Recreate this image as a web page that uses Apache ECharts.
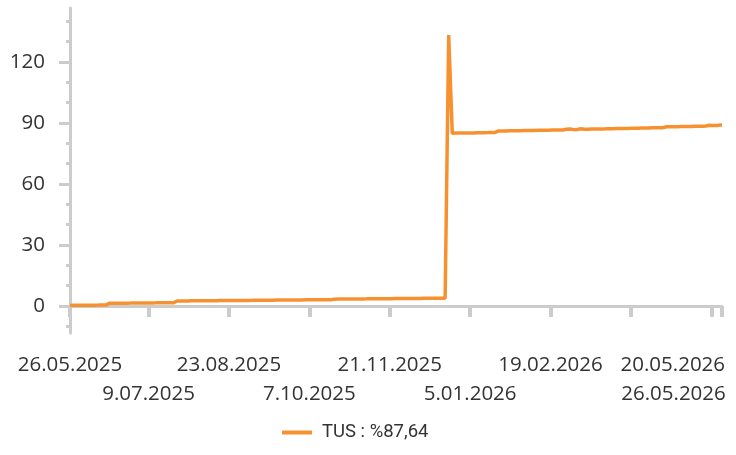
<!DOCTYPE html>
<html><head><meta charset="utf-8">
<script src="https://cdn.jsdelivr.net/npm/echarts@6/dist/echarts.min.js"></script>
<style>html,body{margin:0;padding:0;background:#fff}#c{width:736px;height:455px}</style>
</head><body><div id="c"></div>
<script>
// ---- data ----
const startDate = [2025, 5, 26]; // first category (day, month numbering 1-based)
const dayCount = 366;
const phase1 = [
  0.28,0.29,0.30,0.31,0.31,0.31,0.32,0.34,0.35,0.36,0.37,0.38,0.38,0.38,0.40,0.41,0.42,0.44,0.45,0.45,0.45,0.47,
  1.30,1.31,1.32,1.32,1.32,1.33,1.35,1.36,1.37,1.39,1.39,1.39,1.40,1.41,1.43,1.44,1.45,1.45,1.45,1.47,1.48,1.49,1.51,1.52,1.52,1.52,1.53,1.55,1.56,1.57,1.58,1.58,1.58,1.60,1.61,1.63,1.64,1.65,
  2.45,2.46,2.47,2.47,2.47,2.48,2.49,2.50,2.51,2.52,2.52,2.52,2.53,2.55,2.56,2.57,2.58,2.58,2.58,2.59,2.60,
  2.61,2.62,2.63,2.63,2.63,2.64,2.65,2.67,2.68,2.69,2.69,2.69,2.70,2.71,2.72,2.73,2.74,2.74,2.74,2.75,2.76,
  2.77,2.78,2.80,2.80,2.80,2.81,2.82,2.83,2.84,2.85,2.85,2.85,2.86,2.87,2.88,2.89,2.90,2.90,2.90,2.91,2.92,
  2.93,2.94,2.95,2.95,2.95,2.96,2.97,2.98,2.99,3.00,3.00,3.00,3.01,3.02,3.03,3.04,3.05,3.05,3.05,3.06,3.07,
  3.08,3.09,3.10,
  3.35,3.36,3.37,3.37,3.37,3.38,3.39,3.40,3.41,3.42,3.42,3.42,3.43,3.44,3.46,3.47,3.48,3.48,3.48,3.49,3.50,
  3.51,3.52,3.53,3.53,3.53,3.54,3.55,3.57,3.58,3.59,3.59,3.59,3.60,3.61,3.62,3.63,3.64,3.64,3.64,3.65,3.66,
  3.68,3.69,3.70,3.70,3.70,3.71,3.72,3.73,3.74,3.75,3.75,3.75,3.76,3.77,3.79,3.80,3.81,3.81,3.81,3.82,3.83,
  3.84
];
const jumpDays = [3.86, 133.3, 109.0];
const phase2 = [
  85.00,85.02,85.04,85.06,85.06,85.06,85.08,85.10,85.12,85.14,85.16,85.16,85.16,85.19,85.21,85.23,85.25,85.27,85.27,85.27,85.30,85.32,85.35,85.37,85.40,85.40,
  86.10,86.12,86.14,86.14,86.14,86.16,86.18,86.20,86.22,86.24,86.24,86.24,86.26,86.28,86.30,86.32,86.34,86.34,86.34,86.36,86.38,
  86.40,86.42,86.44,86.44,86.44,86.46,86.48,86.50,86.52,86.54,86.54,86.54,86.56,86.58,86.60,86.62,86.64,
  86.95,86.70,87.05,86.80,86.75,87.10,86.85,86.90,87.15,86.90,86.95,87.20,86.95,87.00,87.05,87.00,87.05,87.10,87.12,
  87.10,87.12,87.14,87.14,87.14,87.17,87.20,87.22,87.25,87.27,87.27,87.27,87.30,87.32,87.35,87.37,87.40,87.40,87.40,87.43,87.45,
  87.48,87.50,87.52,87.52,87.52,87.55,87.58,87.60,87.63,87.65,87.65,87.65,87.68,87.70,87.73,87.75,
  88.15,88.17,88.19,88.19,88.19,88.21,88.23,88.25,88.27,88.29,88.29,88.29,88.31,88.33,88.35,88.37,88.40,88.40,88.42,
  88.70,88.45,88.80,88.55,88.60,88.90,88.65,88.75,89.00,88.80,88.90,89.00,89.05
];
const yMajorTicks = [0, 30, 60, 90, 120];
const yMinorTicks = [-10, 10, 20, 40, 50, 70, 80, 100, 110, 130, 140];
const xTickIndex = [0, 44, 89, 134, 179, 224, 269, 314, 359, 365];
const xLabelRow1 = [0, 89, 179, 269];
const xLabelRow2 = [44, 134, 224];
const xLabelEnd1 = 359;
const xLabelEnd2 = 365;
const seriesName = 'TUS : %87,64';

// ---- categories ----
const dates = [];
const d0 = Date.UTC(startDate[0], startDate[1] - 1, startDate[2]);
for (let i = 0; i < dayCount; i++) {
  const d = new Date(d0 + i * 86400000);
  dates.push(d.getUTCDate() + '.' + String(d.getUTCMonth() + 1).padStart(2, '0') + '.' + d.getUTCFullYear());
}
const values = phase1.concat(jumpDays, phase2);

const axisColor = '#cccccc';
const textColor = '#333333';
const lineColor = '#f7912f';
const labelFont = 'Open Sans';
const labelSize = 20.5;

const chart = echarts.init(document.getElementById('c'), null, {renderer: 'canvas'});
chart.setOption({
  animation: false,
  grid: {left: 70, right: 14, top: 8, bottom: 122},
  legend: {
    data: [{name: seriesName, icon: 'rect'}],
    left: 282, top: 423, padding: 0,
    itemWidth: 30, itemHeight: 4, itemGap: 10,
    selectedMode: false,
    textStyle: {fontFamily: 'Roboto', fontSize: 18.5, color: textColor, padding: [12, 0, 0, 5]}
  },
  xAxis: {
    type: 'category',
    data: dates,
    boundaryGap: false,
    axisLine: {lineStyle: {color: axisColor, width: 3}},
    axisTick: {
      length: 11,
      lineStyle: {color: axisColor, width: 4},
      interval: function (i) { return xTickIndex.indexOf(i) >= 0; }
    },
    axisLabel: {
      margin: 22,
      interval: function (i) {
        return xLabelRow1.indexOf(i) >= 0 || xLabelRow2.indexOf(i) >= 0 || i === xLabelEnd1 || i === xLabelEnd2;
      },
      formatter: function (v, i) {
        if (i === xLabelEnd1) return '{e1|' + v + '}';
        if (i === xLabelEnd2) return '{e2|' + v + '}';
        if (xLabelRow2.indexOf(i) >= 0) return '{r2|' + v + '}';
        return '{r1|' + v + '}';
      },
      fontFamily: labelFont, fontSize: labelSize, color: textColor,
      rich: {
        r1: {fontFamily: labelFont, fontSize: labelSize, color: textColor},
        r2: {fontFamily: labelFont, fontSize: labelSize, color: textColor, padding: [29, 0, 0, 0]},
        e1: {fontFamily: labelFont, fontSize: labelSize, color: textColor, padding: [0, 77, 0, 0]},
        e2: {fontFamily: labelFont, fontSize: labelSize, color: textColor, padding: [29, 97, 0, 0]}
      }
    },
    splitLine: {show: false}
  },
  yAxis: [{
    type: 'value',
    min: -13.3, max: 146.6,
    axisLine: {show: true, lineStyle: {color: axisColor, width: 3}},
    axisTick: {show: true, length: 11, lineStyle: {color: axisColor, width: 3}, customValues: yMajorTicks},
    axisLabel: {margin: 25, fontFamily: labelFont, fontSize: labelSize, color: textColor, customValues: yMajorTicks},
    splitLine: {show: false}
  }, {
    type: 'value',
    position: 'right',
    offset: -652,
    min: -13.3, max: 146.6,
    axisLine: {show: false},
    axisTick: {show: true, inside: true, length: 4, lineStyle: {color: axisColor, width: 3}, customValues: yMinorTicks},
    axisLabel: {show: false},
    splitLine: {show: false}
  }],
  series: [{
    name: seriesName,
    type: 'line',
    data: values,
    yAxisIndex: 0,
    symbol: 'none',
    color: lineColor,
    lineStyle: {color: lineColor, width: 3.5}
  }]
});
</script>
</body></html>
